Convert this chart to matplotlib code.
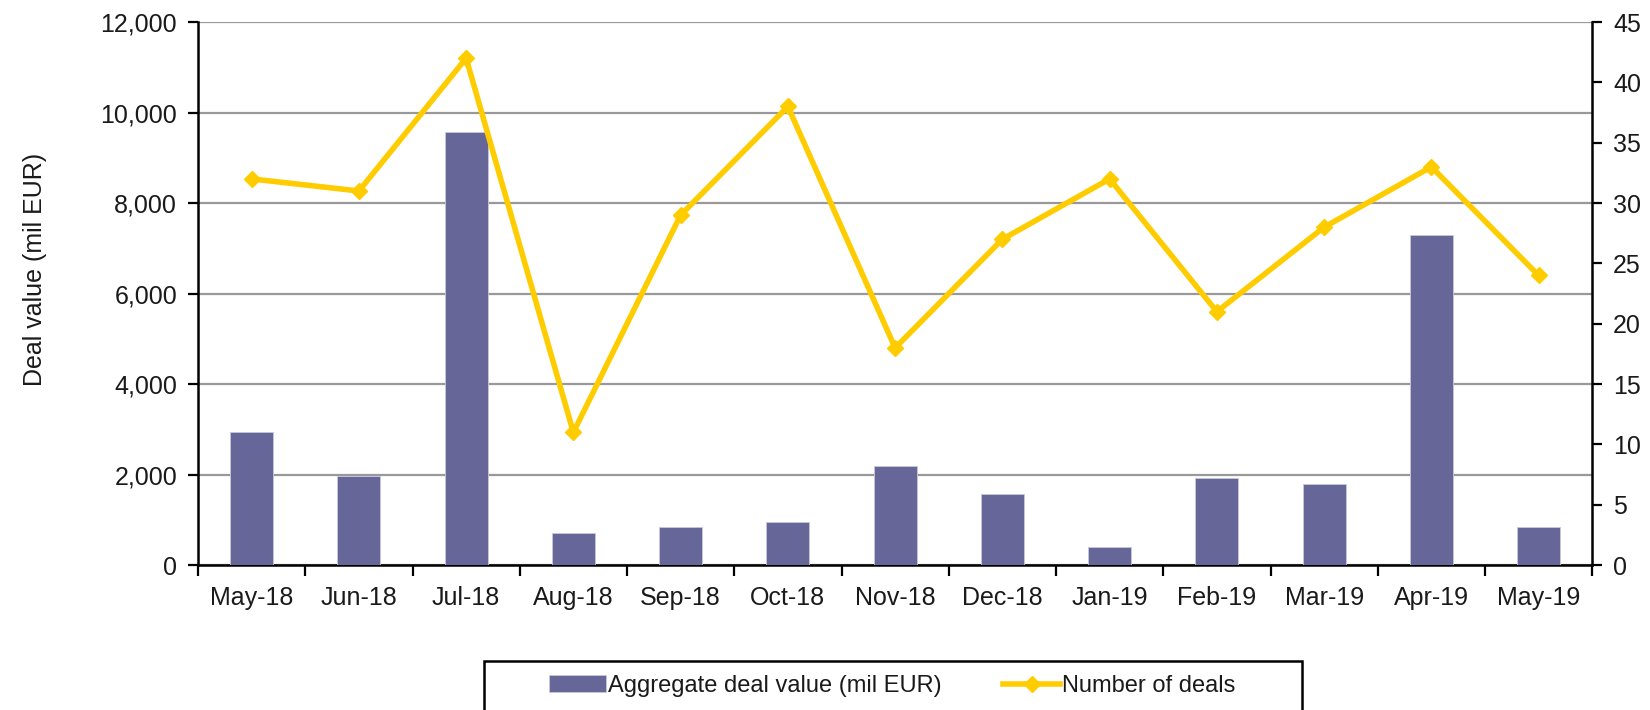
import numpy as np
import matplotlib
matplotlib.use("Agg")
import matplotlib.pyplot as plt
from matplotlib.patches import Rectangle
from matplotlib.ticker import FuncFormatter, MultipleLocator

plt.rcParams['font.family'] = ['Liberation Sans', 'DejaVu Sans']

months = ['May-18', 'Jun-18', 'Jul-18', 'Aug-18', 'Sep-18', 'Oct-18', 'Nov-18',
          'Dec-18', 'Jan-19', 'Feb-19', 'Mar-19', 'Apr-19', 'May-19']
deal_value = [2940, 1970, 9570, 720, 850, 950, 2180, 1570, 410, 1920, 1790, 7300, 850]
deal_count = [32, 31, 42, 11, 29, 38, 18, 27, 32, 21, 28, 33, 24]

bar_color = '#666699'
line_color = '#FFCC00'
fs = 18
txt = '#1a1a1a'

fig = plt.figure(figsize=(16.5, 7.1), dpi=100)
ax = fig.add_axes([0.120, 0.204, 0.845, 0.765])
x = np.arange(len(months))

bars = ax.bar(x, deal_value, width=0.4, color=bar_color, edgecolor='#c8c8dc',
              linewidth=0.6, zorder=3, label='Aggregate deal value (mil EUR)')
ax.set_ylim(0, 12000)
ax.set_xlim(-0.5, len(months) - 0.5)
ax.yaxis.set_major_locator(MultipleLocator(2000))
ax.yaxis.set_major_formatter(FuncFormatter(lambda v, p: f'{int(v):,}'))
ax.grid(axis='y', color='#999999', linewidth=1.6, zorder=0)
ax.set_axisbelow(True)
ax.set_ylabel('Deal value (mil EUR)', fontsize=fs, color=txt)
ax.yaxis.set_label_coords(-0.108, 0.545)

ax.set_xticks(x)
ax.set_xticklabels(months, fontsize=fs, color=txt)
ax.tick_params(axis='x', which='major', length=0, pad=15)
ax.set_xticks(np.arange(-0.5, len(months)), minor=True)
ax.tick_params(axis='x', which='minor', length=8, width=1.6, direction='out')
ax.tick_params(axis='y', labelsize=fs, labelcolor=txt, length=7, width=1.6,
               direction='out', pad=8)

for s in ['left', 'bottom']:
    ax.spines[s].set_linewidth(1.8)
ax.spines['top'].set_visible(False)
ax.spines['right'].set_visible(False)

ax2 = ax.twinx()
line, = ax2.plot(x, deal_count, color=line_color, linewidth=4, marker='D',
                 markersize=8, zorder=4, label='Number of deals')
ax2.set_ylim(0, 45)
ax2.yaxis.set_major_locator(MultipleLocator(5))
ax2.tick_params(axis='y', labelsize=fs, labelcolor=txt, length=7, width=1.6,
                direction='out', pad=8)
ax2.spines['right'].set_linewidth(1.8)
ax2.spines['top'].set_visible(False)
ax2.spines['left'].set_visible(False)
ax2.spines['bottom'].set_visible(False)

leg = fig.legend([bars, line], ['Aggregate deal value (mil EUR)', 'Number of deals'],
                 loc='center left', bbox_to_anchor=(0.320, 0.034), ncol=2,
                 frameon=False, fontsize=17, handlelength=2.4, handletextpad=0.1,
                 columnspacing=2.6, numpoints=1, labelcolor=txt)

fig.add_artist(Rectangle((484 / 1650, -0.05), (1302 - 484) / 1650, 0.05 + (710 - 661) / 710,
                         transform=fig.transFigure, fill=False, edgecolor='black',
                         linewidth=1.8))

fig.savefig('out.png', dpi=100)
